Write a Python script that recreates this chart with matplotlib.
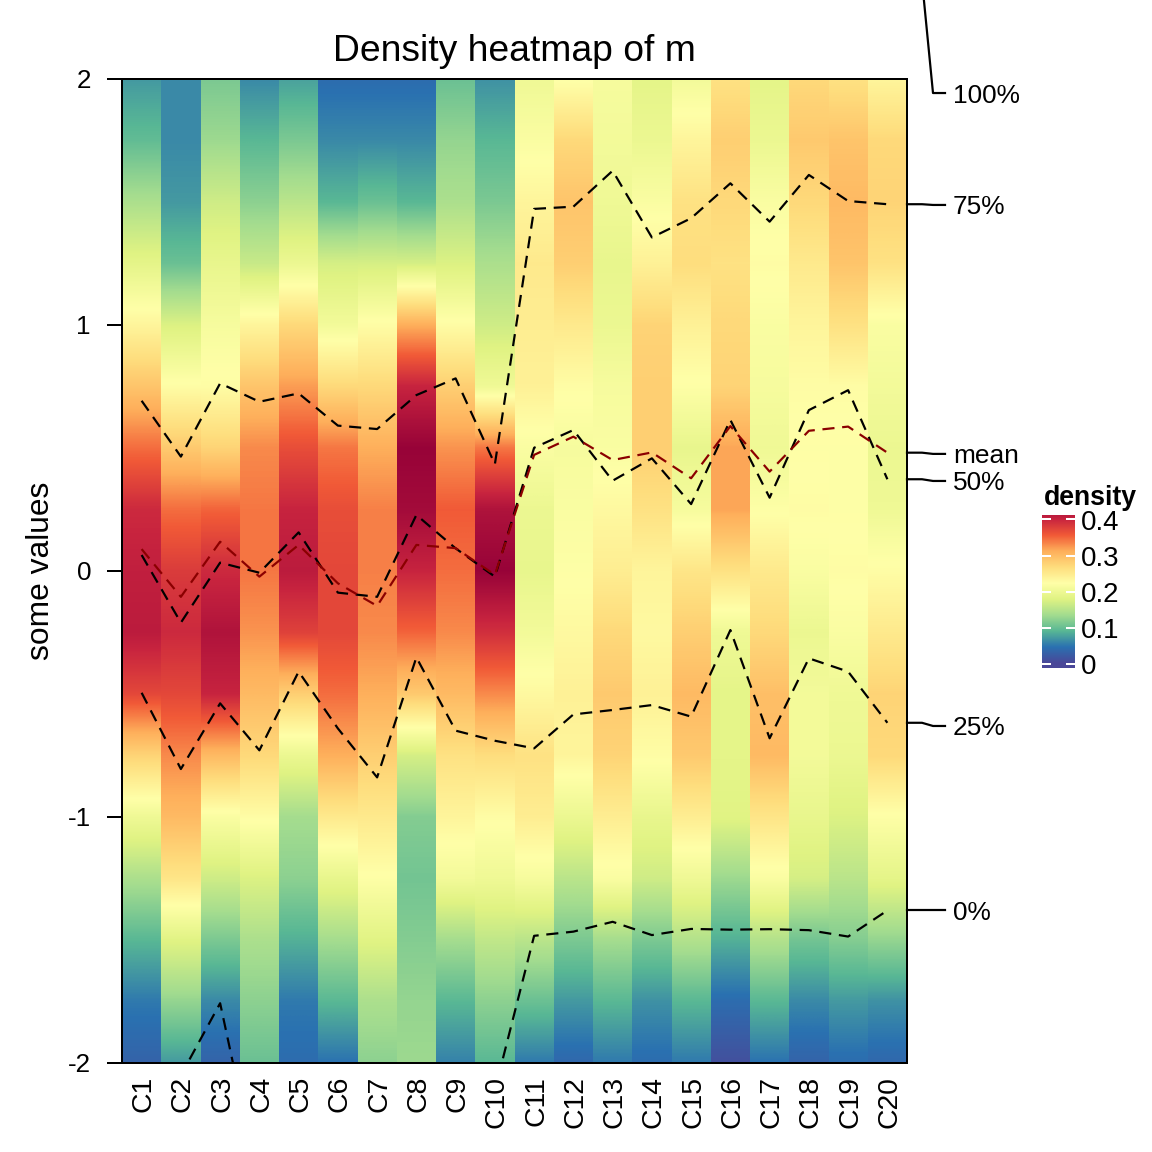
import numpy as np
import matplotlib
matplotlib.use("Agg")
import matplotlib.pyplot as plt
from matplotlib.colors import LinearSegmentedColormap, Normalize
from matplotlib.transforms import blended_transform_factory, ScaledTranslation

plt.rcParams['font.family'] = ['Liberation Sans', 'DejaVu Sans']

columns = ["C%d" % i for i in range(1, 21)]
levels = [2, 1.75, 1.5, 1.25, 1, 0.75, 0.5, 0.25, 0, -0.25, -0.5, -0.75, -1, -1.25, -1.5, -1.75, -2]

# density, top of the column to the bottom
c1 = [.070, .095, .140, .185, .235, .290, .345, .395, .405, .410, .370, .275, .200, .140, .090, .050, .030]
c2 = [.060, .060, .070, .100, .175, .225, .285, .345, .380, .395, .370, .330, .300, .255, .180, .125, .070]
c3 = [.110, .130, .165, .190, .210, .225, .275, .350, .395, .420, .400, .300, .215, .165, .110, .060, .030]
c4 = [.060, .090, .120, .160, .235, .290, .330, .340, .340, .325, .300, .270, .225, .175, .140, .120, .100]
c5 = [.075, .110, .150, .195, .270, .320, .365, .400, .410, .375, .280, .195, .135, .120, .085, .050, .040]
c6 = [.040, .060, .090, .170, .205, .270, .340, .365, .370, .370, .345, .310, .250, .190, .135, .090, .045]
c7 = [.040, .060, .100, .170, .225, .270, .310, .335, .335, .330, .310, .280, .250, .220, .180, .140, .120]
c8 = [.040, .060, .090, .170, .310, .400, .440, .430, .400, .350, .285, .170, .115, .105, .115, .125, .130]
c9 = [.100, .125, .140, .175, .225, .280, .325, .355, .345, .330, .300, .260, .235, .205, .135, .090, .055]
c10 = [.065, .090, .110, .140, .165, .200, .340, .420, .440, .390, .330, .265, .225, .200, .155, .120, .090]
c11 = [.200, .215, .235, .250, .245, .240, .215, .195, .190, .205, .230, .260, .245, .210, .150, .100, .050]
c12 = [.220, .270, .290, .280, .250, .225, .210, .215, .220, .230, .240, .235, .195, .150, .110, .070, .035]
c13 = [.210, .205, .200, .190, .195, .210, .215, .230, .245, .270, .285, .275, .245, .215, .135, .090, .050]
c14 = [.185, .195, .215, .240, .275, .280, .280, .260, .235, .230, .240, .225, .190, .165, .110, .065, .040]
c15 = [.205, .235, .260, .265, .240, .220, .190, .210, .255, .280, .300, .285, .245, .200, .145, .090, .050]
c16 = [.260, .280, .270, .260, .270, .275, .315, .315, .260, .200, .185, .185, .180, .130, .085, .040, .010]
c17 = [.185, .195, .215, .225, .215, .210, .200, .220, .250, .270, .295, .300, .255, .215, .145, .090, .045]
c18 = [.270, .285, .270, .250, .235, .225, .220, .225, .215, .195, .205, .205, .190, .170, .105, .060, .030]
c19 = [.260, .290, .300, .290, .260, .225, .220, .220, .225, .215, .200, .195, .175, .150, .115, .070, .040]
c20 = [.235, .270, .275, .260, .215, .205, .195, .200, .225, .250, .275, .270, .220, .185, .125, .065, .035]
density = [c1, c2, c3, c4, c5, c6, c7, c8, c9, c10, c11, c12, c13, c14, c15, c16, c17, c18, c19, c20]

q0 = [-2.6, -2.05, -1.757, -2.5, -2.8, -2.7, -2.4, -2.6, -2.6, -2.11,
      -1.483, -1.466, -1.426, -1.48, -1.455, -1.458, -1.456, -1.46, -1.486, -1.38]
q25 = [-0.495, -0.805, -0.538, -0.729, -0.409, -0.64, -0.839, -0.351, -0.649, -0.69,
       -0.721, -0.583, -0.565, -0.545, -0.592, -0.24, -0.68, -0.355, -0.409, -0.617]
q50 = [0.065, -0.21, 0.034, -0.007, 0.157, -0.088, -0.105, 0.228, 0.092, -0.023,
       0.501, 0.573, 0.367, 0.458, 0.272, 0.614, 0.298, 0.654, 0.735, 0.373]
q_mean = [0.089, -0.105, 0.119, -0.023, 0.106, -0.05, -0.142, 0.106, 0.093, -0.016,
          0.472, 0.546, 0.451, 0.482, 0.377, 0.589, 0.404, 0.57, 0.587, 0.481]
q75 = [0.692, 0.465, 0.763, 0.688, 0.722, 0.591, 0.577, 0.715, 0.783, 0.434,
       1.472, 1.481, 1.627, 1.356, 1.434, 1.576, 1.42, 1.61, 1.504, 1.491]
q100_last = 2.40

link_names = ["100%", "75%", "mean", "50%", "25%", "0%"]
link_values = [q100_last, q75[-1], q_mean[-1], q50[-1], q25[-1], q0[-1]]
link_label_y = [1.943, 1.488, 0.476, 0.366, -0.63, -1.38]

legend_ticks = [0, 0.1, 0.2, 0.3, 0.4]
# Spectral, a little more saturated as it looks in the reference
spectral = ["#4A4798", "#2A71B1", "#58B795", "#A3DC8F", "#E0F383", "#FFFFA8",
            "#FEDD7D", "#FEAF5B", "#F15A37", "#C8243F", "#930038"]
cmap = LinearSegmentedColormap.from_list("spectral_r", spectral, N=512)
norm = Normalize(0, 0.444)

W = 1152.0
fig = plt.figure(figsize=(8, 8), dpi=144)
ax = fig.add_axes([122 / W, 1 - 1063 / W, 785 / W, 984 / W])

# one image per column so the colour is smooth only in the vertical direction
step = abs(levels[0] - levels[1])
for i, col in enumerate(density):
    ax.imshow(np.array(col).reshape(-1, 1), cmap=cmap, norm=norm, aspect='auto',
              interpolation='bilinear',
              extent=(i, i + 1, levels[-1] - step / 2, levels[0] + step / 2))

x = np.arange(len(columns)) + 0.5
dash = (0, (5.5, 3.5))
for q in [q0, q25, q50, q75]:
    ax.plot(x, q, color='black', lw=1.1, ls=dash)
ax.plot(x, q_mean, color='#8B0000', lw=1.1, ls=dash)

ax.set_xlim(0, len(columns))
ax.set_ylim(-2, 2)
ax.set_xticks(x)
ax.set_xticklabels(columns, rotation=90, fontsize=14.2)
ax.set_yticks([-2, -1, 0, 1, 2])
ax.set_yticklabels(["-2", "-1", "0", "1", "2"], fontsize=13)
ax.tick_params(axis='x', length=0, pad=6.5)
ax.tick_params(axis='y', length=7.5, width=1, pad=8)
# rotated labels sit a touch to the left otherwise
for lab in ax.get_xticklabels():
    lab.set_transform(lab.get_transform() + ScaledTranslation(2 / 144, 0, fig.dpi_scale_trans))
for s in ax.spines.values():
    s.set_linewidth(1)
ax.set_title("Density heatmap of m", fontsize=18.6, pad=9)
fig.text(41 / W, 1 - 571 / W, "some values", rotation=90, ha='center', va='center', fontsize=15.9)

# links from the last column out to the labels
tr = blended_transform_factory(ax.transAxes, ax.transData)
for name, v, lab in zip(link_names, link_values, link_label_y):
    ax.plot([1, 1 + 15 / 785, 1 + 26 / 785, 1 + 38 / 785], [v, v, lab, lab],
            color='black', lw=1.1, transform=tr, clip_on=False)
    ax.text(1 + 46 / 785, lab - 2.5 / 246, name, transform=tr, ha='left', va='center', fontsize=13.1)

# legend
lax = fig.add_axes([1042 / W, 1 - 668 / W, 33 / W, 153 / W])
grad = np.linspace(0.4125, -0.0125, 200).reshape(-1, 1)
lax.imshow(grad, cmap=cmap, norm=norm, aspect='auto', extent=(0, 1, -0.0125, 0.4125))
for t in legend_ticks:
    lax.plot([0, 0.24], [t, t], color='white', lw=1)
    lax.plot([0.76, 1], [t, t], color='white', lw=1)
lax.set_xlim(0, 1)
lax.set_ylim(-0.0125, 0.4125)
lax.set_xticks([])
lax.yaxis.tick_right()
lax.set_yticks(legend_ticks)
lax.set_yticklabels(["0", "0.1", "0.2", "0.3", "0.4"], fontsize=13.8)
lax.tick_params(axis='y', length=0, pad=3)
for s in lax.spines.values():
    s.set_visible(False)
fig.text(1044 / W, 1 - 498 / W, "density", ha='left', va='center', fontsize=13.3, fontweight='bold')

fig.savefig("out.png", dpi=144)
